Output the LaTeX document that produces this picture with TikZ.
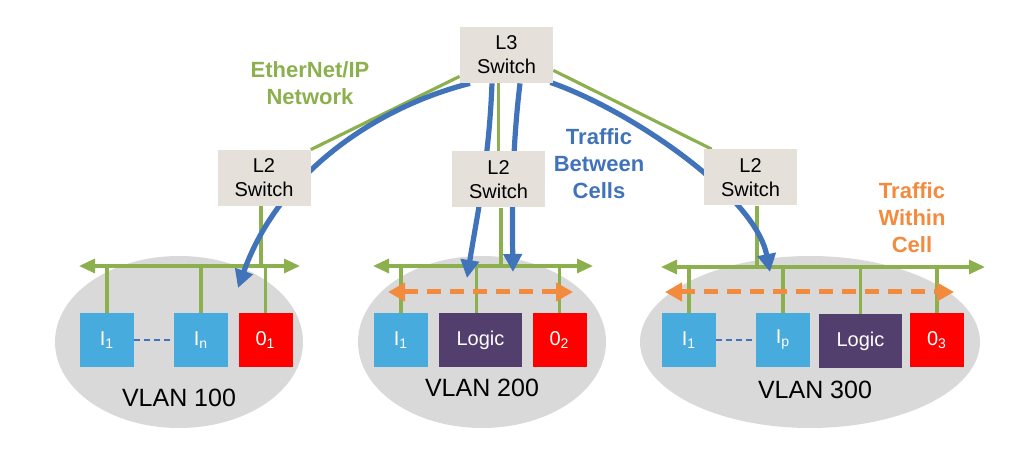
\documentclass[tikz,border=0pt]{standalone}
\usepackage{fontspec}
\setmainfont{Liberation Sans}
\usetikzlibrary{arrows.meta}
\definecolor{gr}{HTML}{8DB04E}
\definecolor{bl}{HTML}{4173BA}
\definecolor{orn}{HTML}{F38B3F}
\definecolor{sky}{HTML}{47ABDD}
\definecolor{pur}{HTML}{533F6E}
\definecolor{rd}{HTML}{FF0000}
\definecolor{sw}{HTML}{E5E0DA}
\definecolor{ell}{HTML}{D9D9D9}
\pgfdeclarelayer{bg}
\pgfdeclarelayer{mid}
\pgfsetlayers{bg,mid,main}
\begin{document}
\begin{tikzpicture}[x=0.5pt,y=-0.5pt,
 swbox/.style={fill=sw, minimum width=46.5pt, minimum height=28pt, inner sep=0pt, align=center, font=\fontsize{10}{12}\selectfont},
 dev/.style={minimum width=27pt, minimum height=27pt, inner sep=0pt, text=white, font=\fontsize{10}{12}\selectfont},
 inbox/.style={dev, fill=sky},
 outbox/.style={dev, fill=rd},
 logicbox/.style={dev, fill=pur, minimum width=41.5pt},
 gline/.style={gr, line width=1.6pt},
 bus/.style={gline, {Triangle[length=8pt,width=7pt]}-{Triangle[length=8pt,width=7pt]}},
 btraffic/.style={bl, line width=2.6pt, -{Triangle[length=9pt,width=9pt]}},
 otraffic/.style={orn, line width=2.5pt, dash pattern=on 7pt off 4.5pt, {Triangle[length=8.5pt,width=9pt]}-{Triangle[length=8.5pt,width=9pt]}},
 link/.style={bl, line width=1pt, dash pattern=on 3pt off 2pt},
 vlan/.style={font=\fontsize{12.5}{15}\selectfont},
 lab/.style={font=\bfseries\fontsize{11}{13.5}\selectfont, align=center}
]
\useasboundingbox (0,0) rectangle (1024,464);

% cells
\begin{pgfonlayer}{bg}
\fill[ell] (179,342) ellipse [x radius=62pt, y radius=43pt];
\fill[ell] (482,342) ellipse [x radius=62pt, y radius=43pt];
\fill[ell] (810,342) ellipse [x radius=85pt, y radius=43pt];
\end{pgfonlayer}

% switches
\node[swbox] (L3) at (506.5,55) {L3\\Switch};
\node[swbox] (S1) at (264,178) {L2\\Switch};
\node[swbox] (S2) at (498.5,179.5) {L2\\Switch};
\node[swbox] (S3) at (750.5,177.5) {L2\\Switch};

% devices
\node[inbox] (A1) at (107,340) {I\textsubscript{1}};
\node[inbox] (An) at (201,340) {I\textsubscript{n}};
\node[outbox] (O1) at (265.5,340) {0\textsubscript{1}};
\node[inbox] (B1) at (401,340) {I\textsubscript{1}};
\node[logicbox] (BL) at (480.5,340) {Logic};
\node[outbox] (O2) at (559.5,340) {0\textsubscript{2}};
\node[inbox] (C1) at (689,340) {I\textsubscript{1}};
\node[inbox] (Cp) at (783,340) {I\textsubscript{p}};
\node[logicbox] (CL) at (860.5,341) {Logic};
\node[outbox] (O3) at (937,340) {0\textsubscript{3}};

% bus ends and traffic ends
\coordinate (bAl) at (79,266);
\coordinate (bAr) at (300,266);
\coordinate (bBl) at (373,266);
\coordinate (bBr) at (593,266);
\coordinate (bCl) at (661,267);
\coordinate (bCr) at (985,267);
\coordinate (oBl) at (388,292);
\coordinate (oBr) at (573,292);
\coordinate (oCl) at (665,292);
\coordinate (oCr) at (954,292);
\coordinate (tA) at (238,288);
\coordinate (tB1) at (467,278);
\coordinate (tB2) at (513,272);
\coordinate (tC) at (770,272);

\begin{pgfonlayer}{mid}
% uplinks
\draw[gline] ([yshift=3.5pt]L3.south west) -- (S1.north east);
\draw[gline] (S2.north) -- (S2.north |- L3.south);
\draw[gline] ([yshift=6.5pt]L3.south east) -- ([xshift=4pt]S3.north west);
% buses
\draw[bus] (bAl) -- (bAr);
\draw[bus] (bBl) -- (bBr);
\draw[bus] (bCl) -- (bCr);
% switch drops
\draw[gline] ([xshift=-1.5pt]S1.south) -- ([xshift=-1.5pt]S1.south |- bAl);
\draw[gline] ([xshift=1.25pt]S2.south) -- ([xshift=1.25pt]S2.south |- bBl);
\draw[gline] ([xshift=3.25pt]S3.south) -- ([xshift=3.25pt]S3.south |- bCl);
% device drops
\draw[gline] (A1.north) -- (A1.north |- bAl);
\draw[gline] (An.north) -- (An.north |- bAl);
\draw[gline] (O1.north) -- (O1.north |- bAl);
\draw[gline] (B1.north) -- (B1.north |- bBl);
\draw[gline] ([xshift=-2pt]BL.north) -- ([xshift=-2pt]BL.north |- bBl);
\draw[gline] (O2.north) -- (O2.north |- bBl);
\draw[gline] (C1.north) -- (C1.north |- bCl);
\draw[gline] (Cp.north) -- (Cp.north |- bCl);
\draw[gline] (CL.north) -- (CL.north |- bCl);
\draw[gline] (O3.north) -- (O3.north |- bCl);
% traffic within cell
\draw[otraffic] (oBl) -- (oBr);
\draw[otraffic] (oCl) -- (oCr);
% traffic between cells
\draw[btraffic] ([xshift=-18.25pt]L3.south) .. controls (380,106) and (280,170) .. (tA);
\draw[btraffic] ([xshift=-7.25pt]L3.south) .. controls (489,160) and (478,210) .. (tB1);
\draw[btraffic] ([xshift=6.75pt]L3.south) .. controls (512,150) and (512,210) .. (tB2);
\draw[btraffic] ([xshift=-1.5pt,yshift=0.5pt]L3.south east) .. controls (630,110) and (755,195) .. (tC);
\end{pgfonlayer}

% device links
\draw[link] (A1.east) -- (An.west);
\draw[link] (C1.east) -- (Cp.west);

% labels
\node[lab, text=gr] (lEN) at (310,83) {EtherNet/IP\\Network};
\node[lab, text=bl] (lTB) at (599,164) {Traffic\\Between\\Cells};
\node[lab, text=orn] (lTW) at (912,218) {Traffic\\Within\\Cell};
\node[vlan] (v1) at (179,398) {VLAN 100};
\node[vlan] (v2) at (482,388) {VLAN 200};
\node[vlan] (v3) at (815,390) {VLAN 300};
\end{tikzpicture}
\end{document}
